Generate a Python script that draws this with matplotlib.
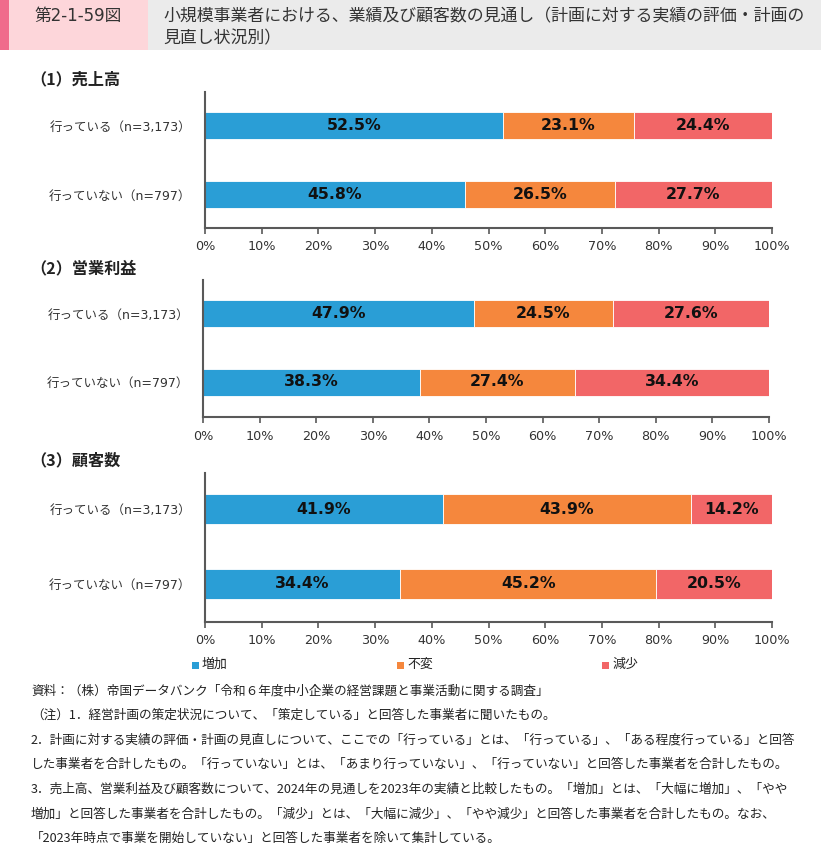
import matplotlib
matplotlib.use('Agg')
import matplotlib.pyplot as plt
from matplotlib.patches import Rectangle

# ---------------- data ----------------
categories = ['行っている（n=3,173）', '行っていない（n=797）']
series_names = ['増加', '不変', '減少']
sales_inc = [52.5, 45.8]
sales_same = [23.1, 26.5]
sales_dec = [24.4, 27.7]
profit_inc = [47.9, 38.3]
profit_same = [24.5, 27.4]
profit_dec = [27.6, 34.4]
cust_inc = [41.9, 34.4]
cust_same = [43.9, 45.2]
cust_dec = [14.2, 20.5]
panel_titles = ['（1）売上高', '（2）営業利益', '（3）顧客数']
xticks = [0, 10, 20, 30, 40, 50, 60, 70, 80, 90, 100]
xtick_labels = [f'{v}%' for v in xticks]

fig_label = '第2-1-59図'
title_lines = ['小規模事業者における、業績及び顧客数の見通し（計画に対する実績の評価・計画の',
               '見直し状況別）']
notes = [
    '資料：（株）帝国データバンク「令和６年度中小企業の経営課題と事業活動に関する調査」',
    '（注）1．経営計画の策定状況について、「策定している」と回答した事業者に聞いたもの。',
    '2．計画に対する実績の評価・計画の見直しについて、ここでの「行っている」とは、「行っている」、「ある程度行っている」と回答',
    'した事業者を合計したもの。「行っていない」とは、「あまり行っていない」、「行っていない」と回答した事業者を合計したもの。',
    '3．売上高、営業利益及び顧客数について、2024年の見通しを2023年の実績と比較したもの。「増加」とは、「大幅に増加」、「やや',
    '増加」と回答した事業者を合計したもの。「減少」とは、「大幅に減少」、「やや減少」と回答した事業者を合計したもの。なお、',
    '「2023年時点で事業を開始していない」と回答した事業者を除いて集計している。',
]

# ---------------- style ----------------
colors = ['#2a9ed6', '#f5873d', '#f26667']
CJK = 'Noto Sans CJK JP'
plt.rcParams['font.family'] = ['DejaVu Sans', CJK]

W, H = 821, 844
fig = plt.figure(figsize=(W / 100, H / 100), dpi=100)


def fx(px):
    return px / W


def fy(py):
    return 1 - py / H


# header
fig.add_artist(Rectangle((fx(148), fy(50)), fx(821 - 148), 50 / H,
                         transform=fig.transFigure, color='#ebebeb', lw=0))
fig.add_artist(Rectangle((0, fy(50)), fx(148), 50 / H,
                         transform=fig.transFigure, color='#fdd6da', lw=0))
fig.add_artist(Rectangle((0, fy(50)), fx(9), 50 / H,
                         transform=fig.transFigure, color='#f06b8b', lw=0))
fig.text(fx(78), fy(16), fig_label, ha='center', va='center', fontsize=12,
         family=['DejaVu Sans', CJK], color='#333333')
for i, ln in enumerate(title_lines):
    fig.text(fx(163), fy(16 + 22 * i), ln, ha='left', va='center', fontsize=12.2,
             family=[CJK], color='#333333')

# panels
panels = [
    dict(vals=(sales_inc, sales_same, sales_dec), left=205, right=772, top=92, bottom=228,
         r1=125.5, r2=194.5, bh=27, ty=79),
    dict(vals=(profit_inc, profit_same, profit_dec), left=203, right=769, top=280, bottom=417,
         r1=313.5, r2=382, bh=27, ty=268),
    dict(vals=(cust_inc, cust_same, cust_dec), left=205, right=772, top=473, bottom=622,
         r1=509, r2=584, bh=30, ty=460),
]

for p, title in zip(panels, panel_titles):
    ax = fig.add_axes([fx(p['left']), fy(p['bottom']), fx(p['right'] - p['left']),
                       (p['bottom'] - p['top']) / H])
    s = p['r2'] - p['r1']
    ax.set_ylim((p['bottom'] - p['r1']) / s, (p['top'] - p['r1']) / s)
    ax.set_xlim(0, 100)
    ypos = list(range(len(categories)))
    lefts = [0.0] * len(categories)
    for series, col in zip(p['vals'], colors):
        bars = ax.barh(ypos, series, left=lefts, height=p['bh'] / s, color=col,
                       edgecolor='#ffffff', linewidth=0.6)
        for b, v in zip(bars, series):
            ax.text(b.get_x() + b.get_width() / 2, b.get_y() + b.get_height() / 2,
                    f'{v:.1f}%', ha='center', va='center', fontsize=11.3,
                    fontweight='bold', color='#111111', family=['DejaVu Sans'])
        lefts = [l + v for l, v in zip(lefts, series)]
    ax.set_yticks(ypos)
    ax.set_yticklabels(categories, fontsize=9, color='#333333', family=['DejaVu Sans', CJK])
    ax.tick_params(axis='y', length=0, pad=9.7)
    ax.set_xticks(xticks)
    ax.set_xticklabels(xtick_labels, fontsize=9.2, color='#333333')
    ax.tick_params(axis='x', length=4, width=1.2, color='#595959', pad=5, direction='out')
    for side in ('top', 'right'):
        ax.spines[side].set_visible(False)
    for side in ('left', 'bottom'):
        ax.spines[side].set_color('#595959')
        ax.spines[side].set_linewidth(1.5)
    ax.set_facecolor('none')
    fig.text(fx(30), fy(p['ty']), title, ha='left', va='center', fontsize=11.6,
             fontweight='bold', family=[CJK], color='#222222')

# legend
leg_x = [192, 397, 602]
for name, col, lx in zip(series_names, colors, leg_x):
    fig.add_artist(Rectangle((fx(lx), fy(669)), fx(7), 7 / H,
                             transform=fig.transFigure, color=col, lw=0))
    fig.text(fx(lx + 10), fy(664), name, ha='left', va='center', fontsize=9.3,
             family=[CJK], color='#222222')

# notes
for i, ln in enumerate(notes):
    fig.text(fx(31), fy(691 + 24.6 * i), ln, ha='left', va='center', fontsize=9.1,
             family=[CJK], color='#222222')

fig.savefig('out.png', dpi=100)
